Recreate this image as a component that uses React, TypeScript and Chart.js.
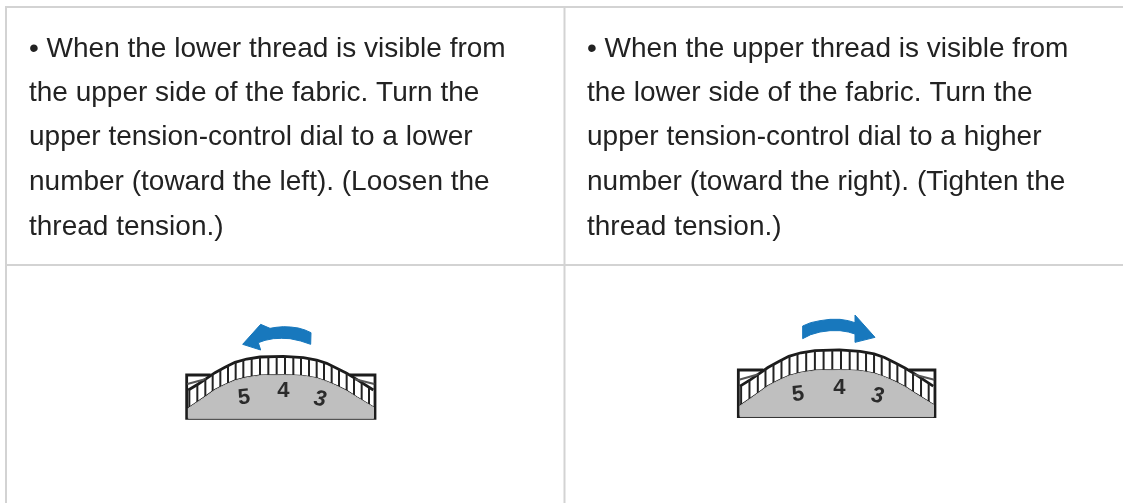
import React, { useEffect, useRef } from "react";
import { Chart, registerables } from "chart.js";

Chart.register(...registerables);

const WIDTH = 1123;
const HEIGHT = 503;

// Table text
const leftLines = [
  "• When the lower thread is visible from",
  "the upper side of the fabric. Turn the",
  "upper tension-control dial to a lower",
  "number (toward the left). (Loosen the",
  "thread tension.)",
];
const rightLines = [
  "• When the upper thread is visible from",
  "the lower side of the fabric. Turn the",
  "upper tension-control dial to a higher",
  "number (toward the right). (Tighten the",
  "thread tension.)",
];
const lineBaselines = [57, 101, 145, 190, 235];
const columnTextX = [29, 587];

// Table rules
const gridRules: number[][][] = [
  [[5, 7], [1123, 7]],
  [[6, 6], [6, 503]],
  [[564.5, 6], [564.5, 503]],
  [[6, 265], [1123, 265]],
];

// Dial drawing, in 3x crop units of the left dial
const frame = [[122, 195], [50, 195], [50, 325], [615, 325], [615, 195], [540, 195]];
const outerArc = [[55, 240], [85, 222], [110, 205], [135, 188], [165, 172], [195, 157], [230, 147], [270, 141], [340, 139], [400, 143], [440, 150], [470, 160], [500, 175], [530, 190], [560, 208], [610, 240]];
const innerArc = [[55, 295], [85, 275], [110, 258], [135, 240], [165, 225], [195, 212], [230, 203], [270, 197], [340, 195], [400, 198], [440, 205], [470, 215], [500, 228], [530, 243], [560, 262], [610, 292]];
const tickX = [58, 82, 106, 128, 151, 174, 197, 220, 245, 270, 295, 320, 345, 370, 393, 417, 440, 462, 485, 507, 530, 552, 575, 597];
const tickTop = [238, 224, 208, 193, 178, 166, 156, 149, 144, 141, 139, 139, 139, 140, 142, 146, 150, 157, 168, 178, 190, 203, 218, 232];
const tickBottom = [293, 277, 261, 245, 231, 220, 211, 204, 199, 197, 195, 195, 195, 196, 198, 201, 205, 212, 222, 232, 243, 256, 272, 285];
const cornerLeft = [[52, 222], [108, 207]];
const cornerRight = [[552, 207], [613, 222]];
const dialLabels = ["5", "4", "3"];
const dialLabelPos = [[222, 263, -0.12], [340, 244, 0], [450, 268, 0.15]];

// Arrows, in 3x crop units
const arrowLeft = [[423, 68], [405, 60], [385, 54], [362, 51], [340, 50], [318, 52], [300, 55], [272, 43], [218, 103], [272, 120], [265, 98], [285, 91], [310, 86], [335, 85], [360, 86], [392, 93], [422, 103], [423, 68]];
const arrowRight = [[248, 48], [272, 38], [300, 32], [330, 28], [360, 28], [385, 32], [405, 38], [405, 15], [465, 82], [405, 97], [405, 72], [385, 66], [360, 62], [330, 62], [300, 66], [272, 74], [248, 86], [248, 48]];

const GRID = "#d3d3d3";
const INK = "#222222";
const DIAL_INK = "#1c1c1c";
const GRAY = "#bfbfbf";
const BLUE = "#1878bd";

type Pt = { x: number; y: number };
const placeLeft = (p: number[]): Pt => ({ x: 170 + p[0] / 3, y: 310 + p[1] / 3 });
const placeRight = (p: number[]): Pt => ({
  x: 720 + (55 + (p[0] - 50) * 1.044) / 3,
  y: 310 + (320 + (p[1] - 325) * 1.077) / 3,
});
const placeRaw = (p: number[]): Pt => ({ x: 720 + p[0] / 3, y: 310 + p[1] / 3 });

const stroke = (data: Pt[], color: string, width: number, blur = 0) => ({
  data,
  showLine: true,
  borderColor: color,
  borderWidth: width,
  pointRadius: 0,
  fill: false,
  tension: 0,
  blur,
});

const filled = (data: Pt[], color: string, blur = 0) => ({
  data,
  showLine: true,
  borderColor: color,
  backgroundColor: color,
  borderWidth: 1,
  pointRadius: 0,
  fill: "shape",
  tension: 0,
  blur,
});

function dialDatasets(place: (p: number[]) => Pt) {
  const grayRegion = [
    ...innerArc.map(place),
    place([610, 325]),
    place([55, 325]),
    place(innerArc[0]),
  ];
  const sets: any[] = [filled(grayRegion, GRAY, 0.7)];
  tickX.forEach((x, i) => {
    sets.push(stroke([place([x, tickTop[i]]), place([x, tickBottom[i]])], "#222222", 2, 0.5));
  });
  sets.push(stroke(cornerLeft.map(place), "#555555", 2, 0.5));
  sets.push(stroke(cornerRight.map(place), "#555555", 2, 0.5));
  sets.push(stroke(outerArc.map(place), DIAL_INK, 2.8, 0.5));
  sets.push(stroke(innerArc.map(place), DIAL_INK, 2.2, 0.5));
  sets.push(stroke(frame.map(place), DIAL_INK, 2.8, 0.5));
  return sets;
}

const blurPlugin = {
  id: "softEdges",
  beforeDatasetDraw(chart: any, args: any) {
    const b = chart.data.datasets[args.index].blur;
    if (b) {
      chart.ctx.save();
      chart.ctx.filter = `blur(${b}px)`;
    }
  },
  afterDatasetDraw(chart: any, args: any) {
    if (chart.data.datasets[args.index].blur) chart.ctx.restore();
  },
};

const textPlugin = {
  id: "tableText",
  afterDatasetsDraw(chart: any) {
    const { ctx, scales } = chart;
    const px = (v: number) => scales.x.getPixelForValue(v);
    const py = (v: number) => scales.y.getPixelForValue(v);
    ctx.save();
    ctx.fillStyle = INK;
    ctx.textAlign = "left";
    ctx.textBaseline = "alphabetic";
    ctx.font = '28px "Liberation Sans"';
    [leftLines, rightLines].forEach((lines, c) => {
      lines.forEach((line, i) => {
        ctx.fillText(line, px(columnTextX[c]), py(lineBaselines[i]));
      });
    });
    ctx.restore();

    [placeLeft, placeRight].forEach((place) => {
      dialLabels.forEach((label, i) => {
        const [u, v, rot] = dialLabelPos[i];
        const p = place([u, v]);
        ctx.save();
        ctx.translate(px(p.x), py(p.y));
        ctx.rotate(rot);
        ctx.filter = "blur(0.5px)";
        ctx.fillStyle = "#2b2b2b";
        ctx.font = (i === 2 ? "italic " : "") + 'bold 22px "Liberation Sans"';
        ctx.textAlign = "center";
        ctx.textBaseline = "middle";
        ctx.fillText(label, 0, 0);
        ctx.restore();
      });
    });
  },
};

export default function App() {
  const ref = useRef<HTMLCanvasElement>(null);
  useEffect(() => {
    document.body.style.margin = "0";
    document.body.style.background = "#ffffff";
    const chart = new Chart(ref.current as HTMLCanvasElement, {
      type: "scatter",
      data: {
        datasets: [
          ...gridRules.map((r) => stroke(r.map(([x, y]) => ({ x, y })), GRID, 2)),
          ...dialDatasets(placeLeft),
          ...dialDatasets(placeRight),
          filled(arrowLeft.map(placeLeft), BLUE, 0.6),
          filled(arrowRight.map(placeRaw), BLUE, 0.6),
        ] as any,
      },
      options: {
        responsive: false,
        animation: false,
        layout: { padding: 0 },
        plugins: { legend: { display: false }, title: { display: false }, tooltip: { enabled: false } },
        scales: {
          x: { type: "linear", min: 0, max: WIDTH, display: false },
          y: { type: "linear", min: 0, max: HEIGHT, reverse: true, display: false },
        },
      },
      plugins: [blurPlugin, textPlugin],
    });
    return () => chart.destroy();
  }, []);
  return <canvas ref={ref} width={WIDTH} height={HEIGHT} style={{ display: "block" }} />;
}
